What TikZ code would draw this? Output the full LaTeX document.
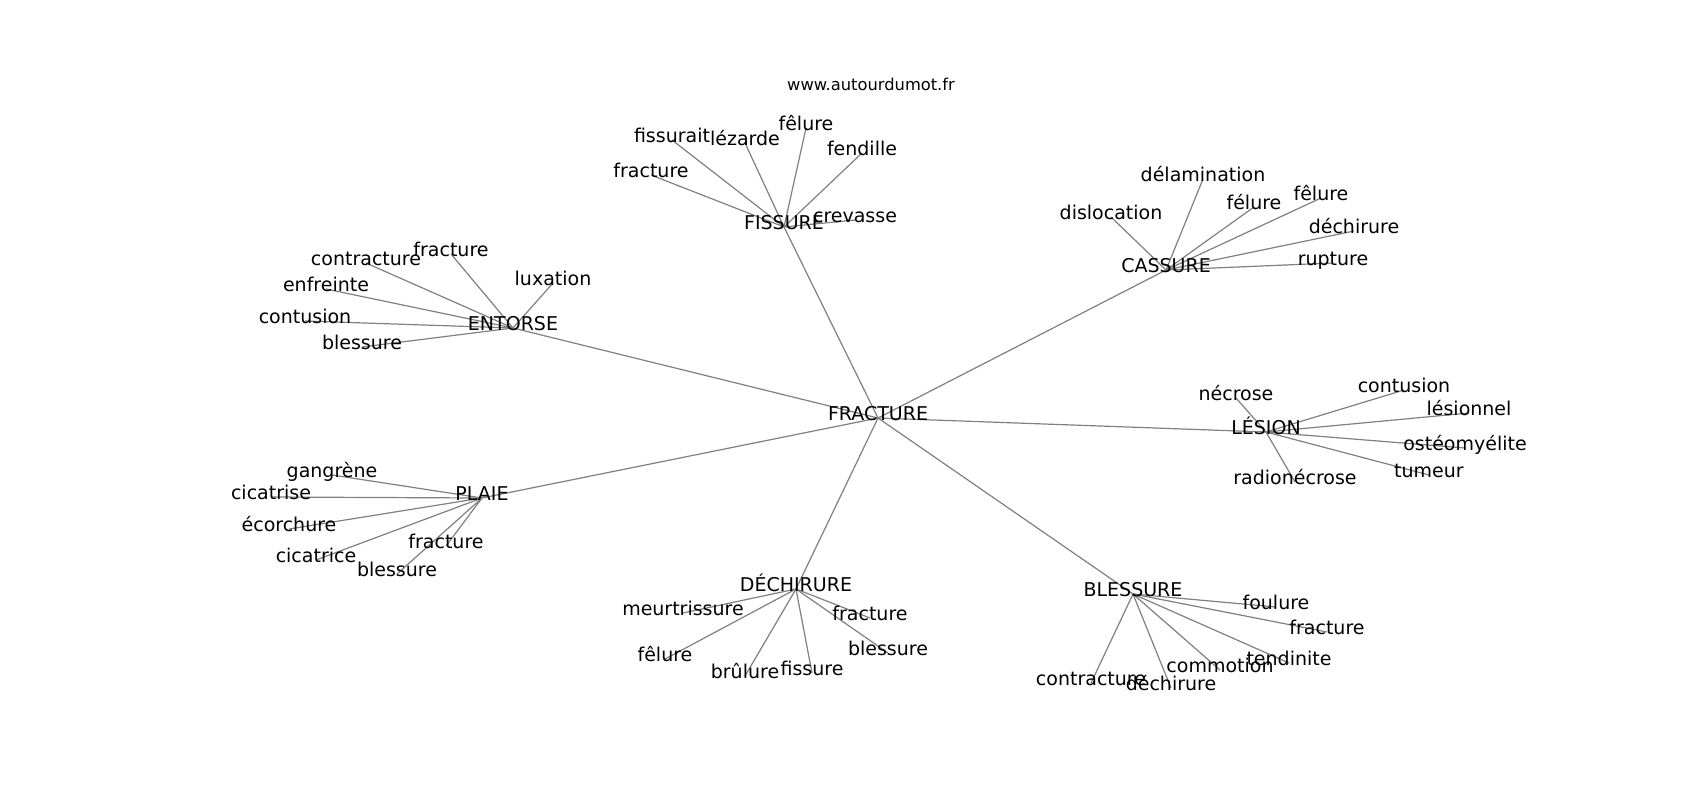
\documentclass[tikz,border=0pt]{standalone}
\usepackage{fontspec}
\setmainfont{DejaVu Sans}
\pgfdeclarelayer{paper}
\pgfdeclarelayer{edges}
\pgfsetlayers{paper,edges,main}
\newcommand{\lblfont}{\fontsize{19}{22}\selectfont}
\newcommand{\ttlfont}{\fontsize{16.3}{19}\selectfont}
\tikzset{
  lbl/.style={font=\lblfont, inner sep=0pt, text height=0.75em, text depth=0.25em},
  ttl/.style={font=\ttlfont, inner sep=0pt},
  edge/.style={draw={rgb,255:red,128;green,128;blue,128}, line width=1.2pt}
}
\begin{document}
\begin{tikzpicture}[x=1pt,y=-1pt]
\begin{pgfonlayer}{paper}
\fill[white] (0,0) rectangle (1700,800);
\end{pgfonlayer}
\useasboundingbox (0,0) rectangle (1700,800);
\node[ttl] (title) at (871,84) {www.autourdumot.fr};
\begin{scope}[yshift=-3pt]
% hubs
\node[lbl] (FR) at (878,415) {FRACTURE};
\node[lbl] (FI) at (784,224) {FISSURE};
\node[lbl] (CA) at (1166,267) {CASSURE};
\node[lbl] (EN) at (513,325) {ENTORSE};
\node[lbl] (LE) at (1266,429) {LÉSION};
\node[lbl] (PL) at (482,495) {PLAIE};
\node[lbl] (DE) at (796,586) {DÉCHIRURE};
\node[lbl] (BL) at (1133,591) {BLESSURE};
% FISSURE
\node[lbl] (fi1) at (651,172) {fracture};
\node[lbl] (fi2) at (672,137) {fissurait};
\node[lbl] (fi3) at (745,140) {lézarde};
\node[lbl] (fi4) at (806,125) {fêlure};
\node[lbl] (fi5) at (862,150) {fendille};
\node[lbl] (fi6) at (855,217) {crevasse};
% CASSURE
\node[lbl] (ca1) at (1203,176) {délamination};
\node[lbl] (ca2) at (1111,214) {dislocation};
\node[lbl] (ca3) at (1254,204) {félure};
\node[lbl] (ca4) at (1321,195) {fêlure};
\node[lbl] (ca5) at (1354,228) {déchirure};
\node[lbl] (ca6) at (1333,260) {rupture};
% ENTORSE
\node[lbl] (en1) at (366,260) {contracture};
\node[lbl] (en2) at (451,251) {fracture};
\node[lbl] (en3) at (553,280) {luxation};
\node[lbl] (en4) at (326,286) {enfreinte};
\node[lbl] (en5) at (305,318) {contusion};
\node[lbl] (en6) at (362,344) {blessure};
% LESION
\node[lbl] (le1) at (1236,395) {nécrose};
\node[lbl] (le2) at (1404,387) {contusion};
\node[lbl] (le3) at (1469,410) {lésionnel};
\node[lbl] (le4) at (1465,445) {ostéomyélite};
\node[lbl] (le5) at (1429,472) {tumeur};
\node[lbl] (le6) at (1295,479) {radionécrose};
% PLAIE
\node[lbl] (pl1) at (332,472) {gangrène};
\node[lbl] (pl2) at (271,494) {cicatrise};
\node[lbl] (pl3) at (289,526) {écorchure};
\node[lbl] (pl4) at (316,557) {cicatrice};
\node[lbl] (pl5) at (446,543) {fracture};
\node[lbl] (pl6) at (397,571) {blessure};
% DECHIRURE
\node[lbl] (de1) at (683,610) {meurtrissure};
\node[lbl] (de2) at (870,615) {fracture};
\node[lbl] (de3) at (665,656) {fêlure};
\node[lbl] (de4) at (888,650) {blessure};
\node[lbl] (de5) at (745,673) {brûlure};
\node[lbl] (de6) at (812,670) {fissure};
% BLESSURE
\node[lbl] (bl1) at (1276,604) {foulure};
\node[lbl] (bl2) at (1327,629) {fracture};
\node[lbl] (bl3) at (1289,660) {tendinite};
\node[lbl] (bl4) at (1220,667) {commotion};
\node[lbl] (bl5) at (1091,680) {contracture};
\node[lbl] (bl6) at (1171,685) {déchirure};
\end{scope}
\begin{pgfonlayer}{edges}
\foreach \h in {FI,CA,EN,LE,PL,DE,BL} \draw[edge] (FR.center) -- (\h.center);
\foreach \c in {1,...,6} {
  \draw[edge] (FI.center) -- (fi\c.center);
  \draw[edge] (CA.center) -- (ca\c.center);
  \draw[edge] (EN.center) -- (en\c.center);
  \draw[edge] (LE.center) -- (le\c.center);
  \draw[edge] (PL.center) -- (pl\c.center);
  \draw[edge] (DE.center) -- (de\c.center);
  \draw[edge] (BL.center) -- (bl\c.center);
}
\end{pgfonlayer}
\end{tikzpicture}
\end{document}
